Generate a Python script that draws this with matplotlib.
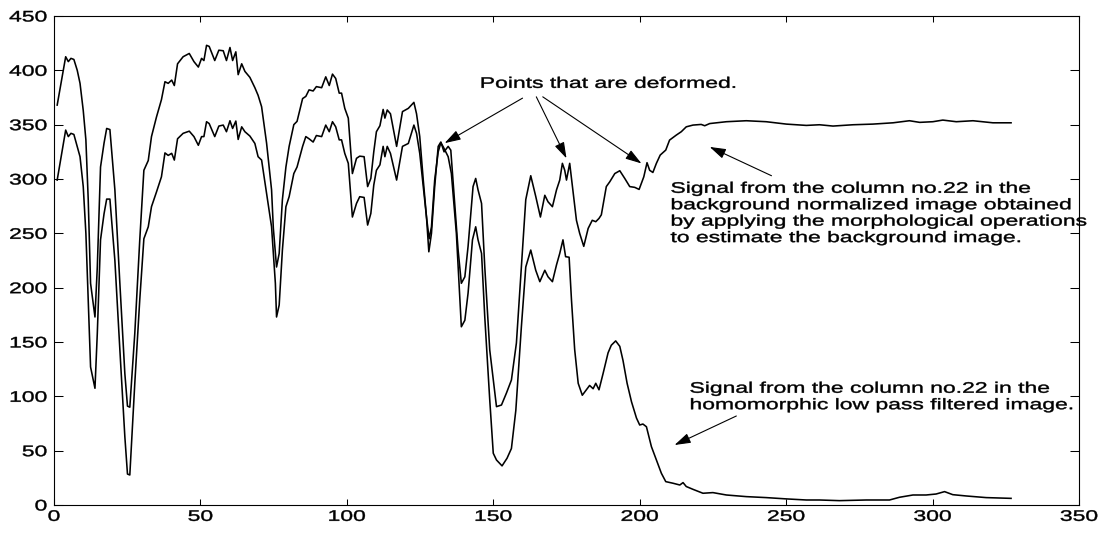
import matplotlib
matplotlib.use("Agg")
import matplotlib.pyplot as plt
from matplotlib.patheffects import AbstractPathEffect
from matplotlib.transforms import Affine2D

# column no.22, background normalized image (morphological background estimate)
bg_x = [1.1, 4, 4.9, 5.8, 6.8, 7.95, 8.9, 10, 10.9, 11.7, 12.5, 14, 14.8, 15.9, 17.1, 18, 19.1,
        20.8, 22.5, 24.2, 25.1, 25.9, 27.6, 29.3, 30.7, 32.2, 33.3, 35, 36.7, 37.9, 39, 40.2,
        41.1, 42.2, 44.1, 46.2, 47.8, 49.3, 50.4, 51.2, 52.1, 53, 54.9, 56.3, 57.8, 58.9, 60.1,
        61, 62.1, 62.9, 64.1, 65.2, 66.9, 68.6, 69.7, 70.9, 72.6, 74.3, 74.9, 76, 76.9, 78,
        79.2, 80.3, 81.9, 83, 84.9, 86, 87.1, 88.5, 89.6, 91.4, 92.8, 94, 95.1, 96.2, 97.4,
        98.2, 99.3, 100.5, 101.9, 103.3, 104.4, 105.9, 107.1, 108.2, 109.2, 110.1, 111.3,
        112.4, 113, 113.8, 114.9, 117, 119, 121, 122.9, 123.8, 124.9, 126.1, 127.2, 128,
        128.9, 130, 131.2, 132.1, 133.2, 134.6, 135.5, 136.9, 138, 139.1, 140.3, 141.4, 143.1,
        144, 144.8, 146, 147.1, 148.8, 151.1, 152.8, 154.5, 156.2, 157.9, 159.6, 161.1, 162.8,
        164.5, 166.1, 167.6, 168.7, 170.2, 171.6, 172.7, 173.6, 174.4, 175, 176.1, 177.3,
        178.4, 179.5, 180.9, 182.4, 183.8, 185, 186.1, 186.9, 188.6, 189.8, 191.5, 193.2,
        194.9, 196.6, 198.3, 199.8, 201.4, 202.5, 203.4, 204.5, 205.7, 207, 208.9, 210.2,
        212.5, 214.2, 215.9, 218.2, 221, 222.2, 223.9, 229.6, 236.4, 243.2, 250.1, 256.9,
        261.4, 266, 272.8, 279.6, 286.5, 292.1, 295.6, 300.1, 303.5, 308.1, 313.8, 320.6, 326.8]
bg_y = [368, 412.5, 408, 411, 410, 400, 388, 363, 336, 281, 204, 173, 219, 311, 333, 346.5, 345.5,
        290, 204, 121, 91, 90, 158, 244, 308, 317, 339, 357, 373, 389.5, 388, 391,
        386, 406, 412.5, 415.5, 408, 403, 411, 409, 423, 422, 409, 418.5, 418, 409, 421,
        409, 417, 396, 406, 399, 393.5, 384, 377, 366.5, 333, 290, 255, 219, 231.5, 281,
        311, 330, 350, 353, 374, 376, 382, 381, 385, 384, 394, 386, 396.5, 392.5, 379,
        379, 365, 356, 305, 319, 321, 320.5, 293, 300.5, 325, 343.5, 349,
        364, 356, 363.5, 360, 330, 362, 365, 370.5, 360, 339, 299, 265, 233,
        250, 293, 330, 334, 325, 330, 326.5, 274.5, 234.5, 204, 210, 238, 293,
        300.5, 290, 277.5, 219, 142.6, 90.5, 92, 103, 115, 149, 219, 281, 303,
        284, 265, 285, 279, 274.5, 290, 299, 314.4, 308, 299, 314.4, 287,
        262, 250, 238, 254.5, 262, 260.7, 263.7, 267, 293, 297.5, 305, 307.6,
        300.5, 293, 292.3, 290.4, 302, 315, 308, 306, 314.4, 322, 326.6, 335.8,
        340.4, 343.5, 348, 349.6, 350.2, 349, 351, 352.7, 353.6, 352.7, 350.5, 349.3,
        349.9, 348.7, 349.9, 350.5, 351.7, 353.6, 352.1, 352.7, 354.2, 352.7, 353.6, 351.7, 351.7]

# column no.22, homomorphic low pass filtered image
hm_x = [1.1, 4, 4.9, 5.8, 6.8, 8.9, 10, 10.9, 11.7, 12.5, 14, 14.8, 15.9, 17.1, 18, 19.1, 20.8,
        22.5, 24.2, 25.1, 25.9, 27.6, 29.3, 30.7, 32.2, 33.3, 35, 36.7, 37.9, 39, 40.2, 41.1,
        42.2, 44.1, 46.2, 47.8, 49.3, 50.4, 51.2, 52.1, 53, 54.9, 56.3, 57.8, 58.9, 60.1, 61,
        62.1, 62.9, 64.1, 65.2, 66.9, 68.6, 69.7, 70.9, 72.6, 74.3, 75.6, 76, 76.9, 78, 79.2,
        80.3, 81.9, 83, 84.9, 86, 87.1, 88.5, 89.6, 91.4, 92.8, 94, 95.1, 96.2, 97.4, 98.2,
        99.3, 100.5, 101.9, 103.3, 104.4, 105.9, 107.1, 108.2, 109.2, 110.1, 111.3, 112.4,
        113, 113.8, 114.9, 117, 119, 121, 122.9, 123.8, 124.9, 126.1, 127.2, 128.1, 128.9,
        130, 131.2, 132.1, 132.9, 134.6, 135.7, 137.4, 139.1, 140.3, 141.4, 142.9, 144,
        144.8, 146, 147.1, 148.8, 150, 151.1, 153, 154.7, 156.2, 157.7, 159.6, 161.1, 162.8,
        164.5, 165.9, 167.6, 168.7, 170.2, 171.6, 172.7, 173.8, 174.7, 175.9, 176.7, 177.8,
        179, 180.4, 181.8, 182.9, 184.1, 185, 186.1, 187.5, 189.2, 190.3, 191.8, 193.2,
        194.3, 195.7, 197.2, 198.9, 200, 201.1, 202.3, 204, 205.7, 207.4, 208.9, 211.4,
        213.7, 214.8, 215.9, 218.2, 221.6, 225, 229.6, 236.4, 243.2, 250.1, 256.9,
        261.4, 268.2, 277.4, 285.3, 288.7, 293.3, 297.8, 301.2, 304.1, 306.9, 311.5, 318.3, 326.8]
hm_y = [299, 345, 339, 342, 341, 320.5, 293, 250, 189, 127, 107.4, 158, 244, 268, 281.5, 281.5, 225,
        143, 63, 28.5, 27.6, 112, 189, 245, 256, 274.5, 288, 302, 324, 321.7, 323.6, 317.4,
        337, 342, 344, 339, 331, 339, 339, 352.7, 351, 339, 348.7, 349.6, 343.5, 353.6, 346.5,
        353.3, 336.4, 348, 343.5, 339.5, 332.7, 320.5, 317.4, 287, 256, 204, 173, 184, 234.6, 274.5,
        283.7, 305, 311, 330, 339, 337, 334, 340, 339, 349.6, 343.5, 352.7, 348, 336, 336,
        323.5, 314.4, 265, 277.5, 283.7, 283, 257.6, 268.3, 294.4, 308, 313, 330,
        320.5, 330, 323.5, 299, 330, 332.7, 349.6, 342, 323.5, 293, 265, 245, 256,
        299, 325, 333.4, 329.7, 320.5, 305, 250, 164, 170, 195, 244, 256,
        244, 231.5, 173, 96.6, 47.6, 41.4, 36, 43, 52, 87, 164, 219, 234.6,
        216, 205.5, 216, 210, 205.5, 221, 231.5, 244, 228.5, 228, 189, 143,
        112, 101, 106, 110, 107, 112, 106, 121, 140, 147, 151, 146,
        133, 112, 95, 80, 73.6, 74.5, 72, 53.7, 41.4, 29.2, 21.5, 20,
        18.4, 20.6, 17, 14.4, 10.8, 11.4, 9.2, 7.7, 6.8, 5.6, 4.6,
        4.6, 4, 4.6, 4.6, 7.1, 9.2, 9.2, 10.1, 12.3, 9.5, 8.3, 6.8, 6.1]

x_ticks = [0, 50, 100, 150, 200, 250, 300, 350]
y_ticks = [0, 50, 100, 150, 200, 250, 300, 350, 400, 450]

note_points = "Points that are deformed."
note_bg = ("Signal from the column no.22 in the\n"
           "background normalized image obtained\n"
           "by applying the morphological operations\n"
           "to estimate the background image.")
note_hm = ("Signal from the column no.22 in the\n"
           "homomorphic low pass filtered image.")


class Widen(AbstractPathEffect):
    """Draw text glyphs stretched horizontally around an anchor."""

    def __init__(self, sx=1.5, anchor="left", stroke=0.3):
        super().__init__()
        self.sx = sx
        self.anchor = anchor
        self.stroke = stroke

    def draw_path(self, renderer, gc, tpath, affine, rgbFace=None):
        if len(tpath.vertices) == 0:
            return
        box = tpath.get_extents(affine)
        if self.anchor == "right":
            x0 = box.x1
        elif self.anchor == "center":
            x0 = 0.5 * (box.x0 + box.x1)
        else:
            x0 = affine.get_matrix()[0, 2]
        wide = Affine2D().translate(-x0, 0).scale(self.sx, 1).translate(x0, 0)
        gc0 = renderer.new_gc()
        gc0.copy_properties(gc)
        gc0.set_linewidth(self.stroke)
        gc0.set_foreground(rgbFace)
        renderer.draw_path(gc0, tpath, affine + wide, rgbFace)
        gc0.restore()


plt.rcParams["font.family"] = ["Liberation Sans", "DejaVu Sans"]
plt.rcParams["font.size"] = 11

fig = plt.figure(figsize=(10.99, 5.51), dpi=100)
ax = fig.add_axes([0.0491, 0.0835, 0.9327, 0.8875])

ax.plot(bg_x, bg_y, color="black", lw=1.15)
ax.plot(hm_x, hm_y, color="black", lw=1.15)

ax.set_xlim(0, 350)
ax.set_ylim(0, 450)
ax.set_xticks(x_ticks)
ax.set_yticks(y_ticks)
ax.tick_params(axis="both", direction="in", top=True, right=True, width=0.75,
               colors="black", labelsize=11)
ax.tick_params(axis="x", length=4.3, pad=3.5)
ax.tick_params(axis="y", length=6.8, pad=5)
for s in ax.spines.values():
    s.set_linewidth(0.8)

for lab in ax.get_xticklabels():
    lab.set_path_effects([Widen(1.5, "center")])
for lab in ax.get_yticklabels():
    lab.set_path_effects([Widen(1.5, "right")])

arrow = dict(arrowstyle="-|>,head_length=0.7,head_width=0.22", color="black",
             lw=0.8, mutation_scale=14, shrinkA=0, shrinkB=0)

ax.text(145.4, 394, note_points, ha="left", va="top", path_effects=[Widen(1.5)])
ax.annotate("", xy=(133.4, 333), xytext=(160, 374.4), arrowprops=arrow)
ax.annotate("", xy=(175, 319), xytext=(164.7, 375.6), arrowprops=arrow)
ax.annotate("", xy=(200.6, 314.3), xytext=(166.9, 375.6), arrowprops=arrow)

ax.text(210.5, 297.4, note_bg, ha="left", va="top", linespacing=1.22,
        path_effects=[Widen(1.5)])
ax.annotate("", xy=(223.9, 329.5), xytext=(245, 303), arrowprops=arrow)

ax.text(217, 113.4, note_hm, ha="left", va="top", linespacing=1.22,
        path_effects=[Widen(1.5)])
ax.annotate("", xy=(211.9, 55.2), xytext=(233, 81.9), arrowprops=arrow)

fig.savefig("out.png", dpi=100)
